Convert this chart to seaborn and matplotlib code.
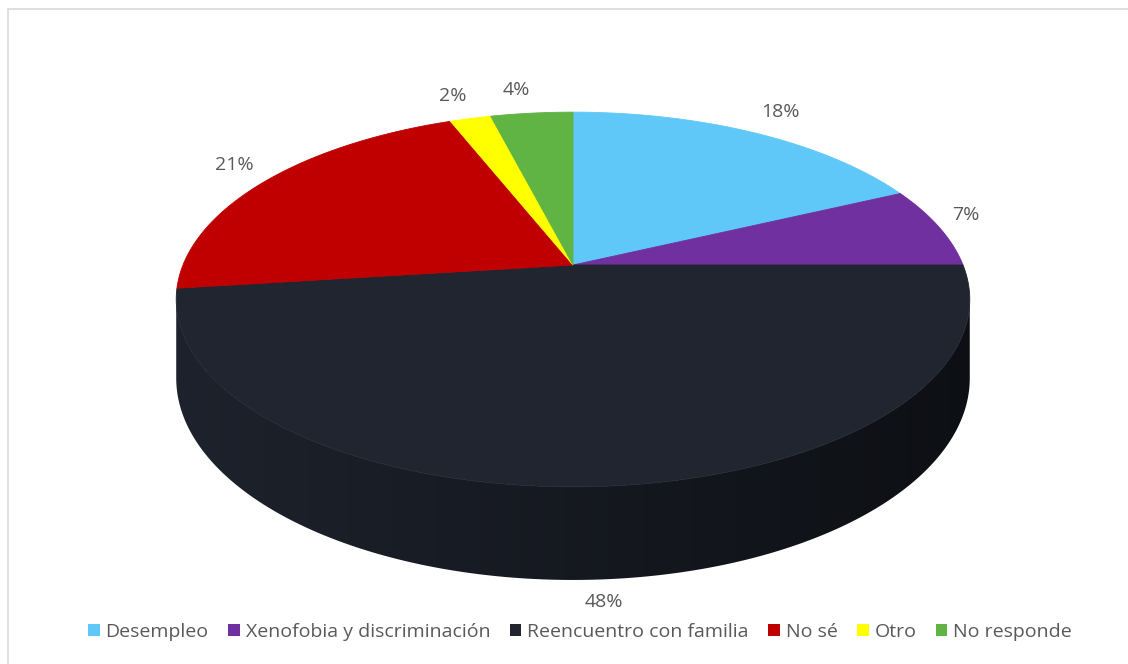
import numpy as np
import matplotlib
matplotlib.use("Agg")
import matplotlib.pyplot as plt
import matplotlib.colors as mcolors
from matplotlib.patches import Patch, Rectangle, Polygon
import seaborn as sns

# data
categories = ["Desempleo", "Xenofobia y discriminación", "Reencuentro con familia",
              "No sé", "Otro", "No responde"]
percentages = [18, 7, 48, 21, 2, 4]
colors = ["#5fc8f8", "#7030a0", "#202530", "#c00000", "#ffff00", "#5fb444"]

sns.set_style("white")
plt.rcParams['font.family'] = ['Open Sans', 'DejaVu Sans']
TEXT_GRAY = "#595959"

# 3d pie geometry (pixels): apex, radii, perspective and thickness
CX, CY = 573, 265
BX, AY = 390, 181
K = 0.184
DEPTH = 76


def project(u, v, z=0.0):
    # u, v on the unit disc, z = 0 on top face and 1 on bottom face
    w = 1 + K * v
    return CX + BX * u / w, CY - AY * v / w + DEPTH * z / w


fig = plt.figure(figsize=(11.28, 6.64), dpi=100)
ax = fig.add_axes([0, 0, 1, 1])
ax.set_xlim(0, 1128)
ax.set_ylim(664, 0)
ax.axis("off")

fracs = np.array(percentages, dtype=float) / sum(percentages)
ends = 90 - 360 * np.cumsum(fracs)
starts = np.r_[90, ends[:-1]]

# side wall, only the part facing the viewer, shaded light on the left
tan = np.degrees(np.arcsin(K))
vis_lo, vis_hi = -180 + tan, -tan
x_left, _ = project(np.cos(np.radians(vis_lo)), np.sin(np.radians(vis_lo)))
x_right, _ = project(np.cos(np.radians(vis_hi)), np.sin(np.radians(vis_hi)))
for i in range(len(percentages)):
    for shift in (0, -360, 360):
        lo = max(ends[i] + shift, vis_lo)
        hi = min(starts[i] + shift, vis_hi)
        if lo >= hi:
            continue
        th = np.radians(np.linspace(lo, hi, 300))
        xt, yt = project(np.cos(th), np.sin(th), 0)
        xb, yb = project(np.cos(th), np.sin(th), 1)
        poly = Polygon(np.column_stack([np.r_[xt, xb[::-1]], np.r_[yt, yb[::-1]]]),
                       closed=True, facecolor="none", edgecolor="none")
        ax.add_patch(poly)
        base = np.array(mcolors.to_rgb(colors[i]))
        shade = np.linspace(0.92, 0.42, 256)
        img = np.clip(base[None, None, :] * shade[None, :, None], 0, 1)
        im = ax.imshow(img, extent=(x_left, x_right, 600, 250), aspect="auto",
                       interpolation="bilinear", zorder=1)
        im.set_clip_path(poly)

# top face
for i in range(len(percentages)):
    th = np.radians(np.linspace(starts[i], ends[i], 300))
    x, y = project(np.cos(th), np.sin(th), 0)
    ax.fill(np.r_[CX, x], np.r_[CY, y], color=colors[i], lw=0.6, ec=colors[i], zorder=2)
ax.set_xlim(0, 1128)
ax.set_ylim(664, 0)

# percentage labels
mids = np.radians((starts + ends) / 2)
for i, m in enumerate(mids):
    c, s = np.cos(m), np.sin(m)
    z = 1 if s < -0.1 else 0
    x, y = project(c, s, z)
    x += 14 * c
    y -= 14 * s
    ha = "left" if c > 0.1 else ("right" if c < -0.1 else "center")
    va = "bottom" if s > 0.1 else ("top" if s < -0.1 else "center")
    ax.text(x, y, f"{percentages[i]}%", ha=ha, va=va, fontsize=14, color=TEXT_GRAY)

# legend
handles = [Patch(facecolor=col, edgecolor="none") for col in colors]
fig.legend(handles, categories, loc="center", bbox_to_anchor=(580 / 1128, 1 - 632 / 664),
           ncol=6, frameon=False, fontsize=14, handlelength=0.6, handleheight=0.6,
           handletextpad=0.3, columnspacing=1.0, labelcolor=TEXT_GRAY)

# chart border
fig.patches.append(Rectangle((8 / 1128, -0.01), 1.0, 1 - 9 / 664 + 0.01,
                             transform=fig.transFigure, fill=False,
                             edgecolor="#d9d9d9", lw=1.2))

fig.savefig("out.png", dpi=100)
